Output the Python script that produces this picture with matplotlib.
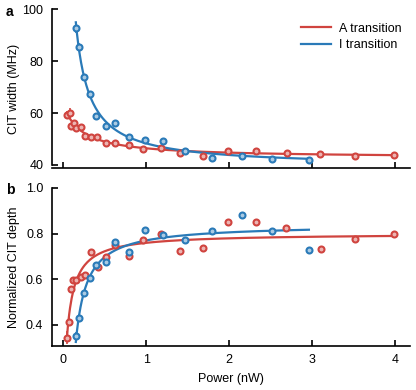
import numpy as np
import matplotlib.pyplot as plt

plt.rcParams['font.family'] = ['Liberation Sans', 'DejaVu Sans']
plt.rcParams['font.size'] = 9

# --- data ---
# A transition (red)
pA = np.array([0.048, 0.077, 0.097, 0.13, 0.16, 0.21, 0.26, 0.33, 0.41, 0.51, 0.63,
               0.79, 0.96, 1.18, 1.41, 1.68, 1.98, 2.32, 2.70, 3.09, 3.51, 3.98])
wA = np.array([59.4, 60.0, 55.1, 56.2, 54.2, 54.6, 51.0, 50.6, 50.6, 48.6, 48.4,
               47.8, 46.2, 46.7, 44.5, 43.6, 45.5, 45.2, 44.5, 44.4, 43.4, 43.8])
wA_err = np.array([1.5, 2.0, 1.0, 1.0, 1.0, 1.0, 0.8, 0.6, 0.6, 0.5, 0.5,
                   0.4, 0.4, 0.4, 0.3, 0.3, 0.3, 0.3, 0.3, 0.3, 0.3, 0.3])
pA_d = np.array([0.048, 0.069, 0.097, 0.121, 0.16, 0.21, 0.26, 0.33, 0.42, 0.51, 0.63,
                 0.79, 0.96, 1.18, 1.41, 1.68, 1.98, 2.32, 2.69, 3.10, 3.51, 3.98])
dA = np.array([0.343, 0.412, 0.556, 0.597, 0.598, 0.609, 0.619, 0.721, 0.655, 0.698, 0.751,
               0.700, 0.770, 0.800, 0.724, 0.736, 0.851, 0.849, 0.824, 0.733, 0.774, 0.800])
dA_err = np.array([0.03, 0.02, 0.015, 0.01, 0.01, 0.01, 0.01, 0.008, 0.008, 0.008, 0.008,
                   0.006, 0.006, 0.006, 0.006, 0.006, 0.006, 0.006, 0.006, 0.006, 0.006, 0.006])

# I transition (blue)
pI = np.array([0.157, 0.19, 0.25, 0.32, 0.40, 0.51, 0.63, 0.79, 0.99, 1.20, 1.47,
               1.79, 2.15, 2.52, 2.96])
wI = np.array([93.0, 85.5, 74.0, 67.4, 58.7, 55.2, 56.2, 50.9, 49.6, 49.2, 45.2,
               42.7, 43.5, 42.3, 41.9])
wI_err = np.array([2.0, 1.5, 1.0, 0.8, 0.6, 0.5, 0.5, 0.4, 0.4, 0.4, 0.3,
                   0.3, 0.3, 0.3, 0.3])
dI = np.array([0.349, 0.431, 0.538, 0.604, 0.663, 0.675, 0.763, 0.721, 0.815, 0.795, 0.770,
               0.809, 0.880, 0.811, 0.726])
dI_err = np.array([0.02, 0.015, 0.01, 0.008, 0.008, 0.006, 0.006, 0.006, 0.006, 0.006, 0.006,
                   0.006, 0.006, 0.006, 0.006])

red = '#d0443f'
blue = '#2a7ab8'


def fit_curve(p, y):
    # y = a + b / (p + c), c from a coarse grid, a and b by least squares
    best = None
    for c in np.linspace(-0.04, 1.0, 521):
        if np.any(p + c <= 0):
            continue
        M = np.column_stack([np.ones_like(p), 1.0 / (p + c)])
        coef, *_ = np.linalg.lstsq(M, y, rcond=None)
        r = np.sum((M @ coef - y) ** 2)
        if best is None or r < best[0]:
            best = (r, coef, c)
    _, (a, b), c = best
    return lambda x: a + b / (x + c)


def light(col, f=0.6):
    rgb = np.array(plt.matplotlib.colors.to_rgb(col))
    return tuple(rgb + (1 - rgb) * f)


fig = plt.figure(figsize=(4.16, 3.90), dpi=100)
ax1 = fig.add_axes([0.124, 0.569, 0.862, 0.407])
ax2 = fig.add_axes([0.124, 0.114, 0.862, 0.404])

series = [
    (ax1, pA, wA, wA_err, red, 'A transition'),
    (ax1, pI, wI, wI_err, blue, 'I transition'),
    (ax2, pA_d, dA, dA_err, red, None),
    (ax2, pI, dI, dI_err, blue, None),
]
for ax, p, y, e, col, lab in series:
    f = fit_curve(p, y)
    xs = np.linspace(p.min() - 0.005, p.max(), 400)
    ax.plot(xs, f(xs), color=col, lw=1.6, label=lab, zorder=2)
    ax.errorbar(p, y, yerr=e, fmt='o', ms=4.3, mfc=light(col), mec=col, mew=1.5,
                ecolor=col, elinewidth=1.2, capsize=0, zorder=3)

for ax in (ax1, ax2):
    ax.spines['top'].set_visible(False)
    ax.spines['right'].set_visible(False)
    ax.spines['left'].set_linewidth(1.2)
    ax.spines['bottom'].set_linewidth(1.2)
    ax.tick_params(direction='in', length=4, width=1.2, labelsize=9)
    ax.tick_params(axis='y', pad=6)
    ax.tick_params(axis='x', pad=6)
    ax.set_xlim(-0.14, 4.18)
    ax.set_xticks([0, 1, 2, 3, 4])
    ax.yaxis.set_label_coords(-0.088, 0.5)

ax1.set_ylim(38.8, 100)
ax1.set_yticks([40, 60, 80, 100])
ax1.spines['left'].set_bounds(40, 100)
ax1.set_xticklabels([])
ax1.set_ylabel('CIT width (MHz)')
ax1.legend(loc='upper right', frameon=False, handlelength=2.4, handletextpad=0.6,
           fontsize=9, labelspacing=0.35, borderaxespad=0.3,
           bbox_to_anchor=(1.0, 0.97))

ax2.set_ylim(0.308, 1.0)
ax2.set_yticks([0.4, 0.6, 0.8, 1.0])
ax2.set_yticklabels(['0.4', '0.6', '0.8', '1.0'])
ax2.set_xlabel('Power (nW)', labelpad=5)
ax2.set_ylabel('Normalized CIT depth')

fig.text(0.014, 0.970, 'a', fontweight='bold', fontsize=10, va='center')
fig.text(0.014, 0.512, 'b', fontweight='bold', fontsize=10, va='center')

fig.savefig('out.png', dpi=100)
